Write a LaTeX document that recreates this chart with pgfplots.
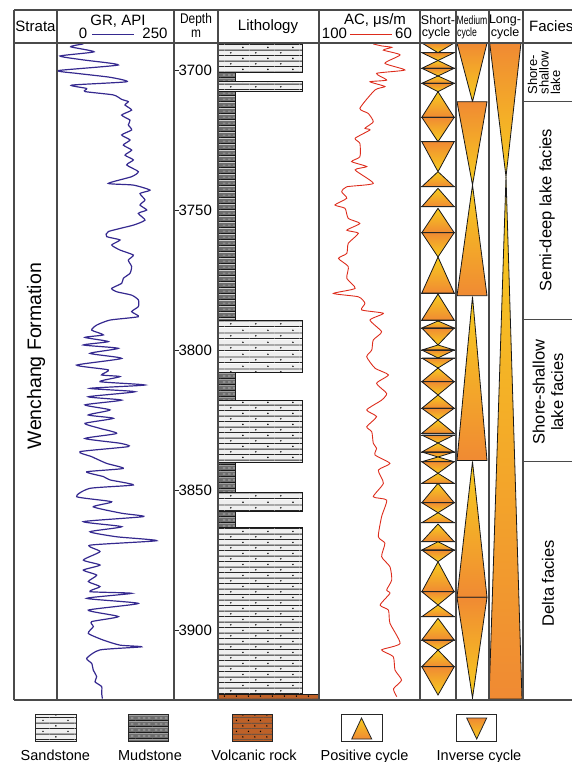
\documentclass[border=0pt]{standalone}
\usepackage{fontspec}
\setmainfont{Liberation Sans}
\usepackage{graphicx}
\usepackage{pgfplots}
\usepackage{pgfplotstable}
\pgfplotsset{compat=1.18}
\usetikzlibrary{patterns}

\definecolor{grc}{HTML}{35298F}
\definecolor{acc}{HTML}{DD2C1C}
\definecolor{cyo}{HTML}{F08A33}
\definecolor{cyy}{HTML}{F7CC1E}
\definecolor{sandf}{HTML}{EFEFEF}
\definecolor{mudf}{HTML}{6E6E6E}
\definecolor{volf}{HTML}{BE6128}
\definecolor{frc}{HTML}{4A4A4A}

\pgfdeclarepatterninherentlycolored{sandp}{\pgfpointorigin}{\pgfqpoint{25pt}{11.4pt}}{\pgfqpoint{25pt}{11.4pt}}{%
 \pgfsetfillcolor{sandf}\pgfpathrectangle{\pgfpointorigin}{\pgfqpoint{25pt}{11.4pt}}\pgfusepath{fill}%
 \pgfsetstrokecolor{black!85}\pgfsetlinewidth{0.9pt}%
 \pgfpathmoveto{\pgfqpoint{0pt}{0.45pt}}\pgfpathlineto{\pgfqpoint{25pt}{0.45pt}}%
 \pgfpathmoveto{\pgfqpoint{0pt}{6.15pt}}\pgfpathlineto{\pgfqpoint{25pt}{6.15pt}}%
 \pgfusepath{stroke}%
 \pgfsetfillcolor{black}%
 \pgfpathcircle{\pgfqpoint{6pt}{3.3pt}}{0.85pt}%
 \pgfpathcircle{\pgfqpoint{18.5pt}{9pt}}{0.85pt}%
 \pgfusepath{fill}}
\pgfdeclarepatterninherentlycolored{mudp}{\pgfpointorigin}{\pgfqpoint{17pt}{5.7pt}}{\pgfqpoint{17pt}{5.7pt}}{%
 \pgfsetfillcolor{mudf}\pgfpathrectangle{\pgfpointorigin}{\pgfqpoint{17pt}{5.7pt}}\pgfusepath{fill}%
 \pgfsetstrokecolor{black!90}\pgfsetlinewidth{0.8pt}%
 \pgfpathmoveto{\pgfqpoint{0pt}{0.4pt}}\pgfpathlineto{\pgfqpoint{17pt}{0.4pt}}\pgfusepath{stroke}%
 \pgfsetstrokecolor{black!20}\pgfsetlinewidth{0.7pt}%
 \pgfpathmoveto{\pgfqpoint{2pt}{3pt}}\pgfpathlineto{\pgfqpoint{4.6pt}{3pt}}%
 \pgfpathmoveto{\pgfqpoint{7.2pt}{3pt}}\pgfpathlineto{\pgfqpoint{9.8pt}{3pt}}%
 \pgfpathmoveto{\pgfqpoint{12.4pt}{3pt}}\pgfpathlineto{\pgfqpoint{15pt}{3pt}}%
 \pgfusepath{stroke}}
\pgfdeclarepatterninherentlycolored{volp}{\pgfpointorigin}{\pgfqpoint{12pt}{11.4pt}}{\pgfqpoint{12pt}{11.4pt}}{%
 \pgfsetfillcolor{volf}\pgfpathrectangle{\pgfpointorigin}{\pgfqpoint{12pt}{11.4pt}}\pgfusepath{fill}%
 \pgfsetstrokecolor{black!70}\pgfsetlinewidth{0.6pt}%
 \pgfpathmoveto{\pgfqpoint{0pt}{0.3pt}}\pgfpathlineto{\pgfqpoint{12pt}{0.3pt}}%
 \pgfpathmoveto{\pgfqpoint{0pt}{6pt}}\pgfpathlineto{\pgfqpoint{12pt}{6pt}}%
 \pgfusepath{stroke}%
 \pgfsetfillcolor{black}%
 \pgfpathcircle{\pgfqpoint{3pt}{3.2pt}}{0.8pt}%
 \pgfpathcircle{\pgfqpoint{9pt}{8.9pt}}{0.8pt}%
 \pgfusepath{fill}}

% GR log: depth (m), GR (API)
\pgfplotstableread{
d gr
3690.7 56.3
3691.7 29.2
3693.5 79.1
3695.0 6.4
3696.4 56.3
3698.2 131.1
3700.2 2.8
3701.2 42.0
3702.6 113.3
3704.2 148.9
3705.4 31.3
3706.6 63.4
3707.7 59.8
3708.9 120.4
3710.5 138.2
3711.3 152.4
3712.5 145.3
3714.3 159.5
3716.1 138.2
3717.9 156.0
3719.6 152.4
3721.4 159.5
3723.2 138.2
3725.0 156.0
3726.8 141.7
3728.6 159.5
3730.4 145.3
3732.1 163.1
3733.9 148.9
3736.3 173.8
3738.1 159.5
3740.5 109.7
3741.1 163.1
3742.9 198.7
3744.1 177.4
3746.4 188.0
3748.2 177.4
3750.0 191.6
3751.2 173.8
3753.6 188.0
3755.4 163.1
3757.7 109.7
3759.5 106.1
3760.7 134.6
3762.5 116.8
3764.3 134.6
3766.1 163.1
3767.9 152.4
3770.2 159.5
3772.6 156.0
3774.4 141.7
3776.2 138.2
3778.0 116.8
3779.2 127.5
3780.4 159.5
3782.1 173.8
3784.5 173.8
3786.3 159.5
3788.1 173.8
3789.3 113.3
3791.1 84.8
3792.9 74.1
3794.6 99.0
3795.5 59.8
3797.0 109.7
3798.2 56.3
3799.4 131.1
3801.2 70.5
3803.0 138.2
3805.4 42.0
3807.1 109.7
3808.9 95.4
3809.5 134.6
3811.3 91.9
3812.5 188.0
3813.7 70.5
3814.9 166.7
3816.7 66.9
3817.9 138.2
3819.6 59.8
3821.4 113.3
3823.2 66.9
3824.4 120.4
3826.2 59.8
3828.0 91.9
3829.8 127.5
3831.6 59.8
3833.3 134.6
3834.5 152.4
3836.3 49.1
3838.1 74.1
3840.5 106.1
3842.3 141.7
3843.5 63.4
3845.2 99.0
3846.4 113.3
3848.2 163.1
3849.4 70.5
3852.4 42.0
3854.2 116.8
3856.0 77.6
3858.3 138.2
3859.5 184.5
3861.3 56.3
3863.1 138.2
3864.9 70.5
3866.7 127.5
3868.1 213.0
3869.7 70.5
3872.0 91.9
3875.0 56.3
3876.8 91.9
3878.6 56.3
3880.4 84.8
3882.7 66.9
3884.5 91.9
3886.3 70.5
3886.9 159.5
3888.7 63.4
3890.5 173.8
3892.9 66.9
3895.2 131.1
3897.0 74.1
3898.8 77.6
3901.2 66.9
3903.6 99.0
3905.4 134.6
3906.0 180.9
3907.1 91.9
3910.1 63.4
3911.9 74.1
3914.3 77.6
3916.7 84.8
3918.5 81.2
3920.2 95.4
3922.5 95.4
3924.5 97.0
}\grdata

% AC log: depth (m), AC (us/m)
\pgfplotstableread{
d ac
3690.7 78.5
3691.4 75.2
3691.9 71.2
3692.9 74.5
3694.6 67.9
3697.6 73.9
3700.0 66.0
3701.2 77.2
3703.6 73.2
3704.2 79.8
3705.9 73.9
3707.1 77.8
3713.7 83.8
3715.5 80.5
3718.5 78.5
3720.8 81.8
3721.4 79.8
3724.4 85.7
3726.2 83.8
3731.0 83.8
3732.7 87.1
3734.5 81.1
3735.7 85.7
3740.5 78.5
3741.7 89.0
3743.5 91.0
3745.8 89.0
3748.2 93.7
3749.4 89.7
3753.0 88.4
3754.8 83.8
3757.2 89.0
3758.3 84.4
3761.9 88.4
3765.5 89.0
3767.3 92.3
3770.2 88.4
3774.4 89.0
3778.0 85.7
3779.8 94.3
3781.0 84.4
3783.3 81.8
3785.7 83.1
3786.9 74.5
3789.3 79.8
3793.5 75.2
3796.4 78.5
3800.0 79.1
3802.4 81.1
3806.5 77.8
3808.9 72.5
3811.9 77.2
3815.5 73.2
3817.9 75.2
3821.4 81.1
3823.8 77.2
3827.4 81.1
3829.2 79.1
3833.3 78.5
3835.1 77.2
3837.5 77.8
3840.5 71.9
3842.9 76.5
3847.6 74.5
3852.4 78.5
3853.6 73.2
3859.5 75.2
3866.7 76.5
3869.0 73.9
3873.8 75.2
3877.4 71.9
3882.1 71.2
3885.7 73.2
3886.9 71.9
3891.1 75.8
3892.9 72.5
3897.6 71.9
3904.8 67.9
3907.1 75.2
3909.5 70.6
3914.3 69.9
3917.9 67.3
3921.0 70.5
3923.8 69.2
}\acdata

% lithology bed: pattern, width, top, bottom
\newcommand\bed[4]{\addplot[draw=black!90, line width=0.9pt, pattern=#1] coordinates {(0,#3) (#2,#3) (#2,#4) (0,#4) (0,#3)};}
% positive cycle: left, right, apex (top), base (bottom)
\newcommand\cyP[4]{\addplot[draw=black!90, line width=0.8pt, top color=cyy, bottom color=cyo] coordinates {(0.5,#3) (#2,#4) (#1,#4) (0.5,#3)};}
% inverse cycle: left, right, base (top), apex (bottom)
\newcommand\cyI[4]{\addplot[draw=black!90, line width=0.8pt, top color=cyo, bottom color=cyy] coordinates {(#1,#3) (#2,#3) (0.5,#4) (#1,#3)};}
\newcommand\sP[2]{\cyP{0.05}{0.95}{#1}{#2}\addplot[black!85, line width=0.9pt] coordinates {(0,#2) (1,#2)};}
\newcommand\sI[2]{\cyI{0.05}{0.95}{#1}{#2}\addplot[black!85, line width=0.9pt] coordinates {(0,#1) (1,#1)};}

\pgfplotsset{col/.style={at={(#1pt,-43pt)}, anchor=north west, scale only axis, height=657pt, ymin=3690.36, ymax=3925, y dir=reverse, hide axis, xmin=0, xmax=1}}

\begin{document}
\begin{tikzpicture}
\useasboundingbox (0pt,0pt) rectangle (572pt,-762pt);

% GR
\begin{axis}[col=57, width=117pt, xmin=0, xmax=250]
\addplot[grc, line width=1.2pt, smooth, tension=0.35] table[x=gr, y=d] {\grdata};
\end{axis}

% Depth
\begin{axis}[at={(174pt,-43pt)}, anchor=north west, scale only axis, width=44pt, height=657pt,
  xmin=0, xmax=1, ymin=3690.36, ymax=3925, y dir=reverse,
  axis line style={draw=none}, xtick=\empty,
  ytick={3700,3750,3800,3850,3900}, ytick pos=left, tick align=inside,
  major tick length=4.5pt, every tick/.style={black!85, line width=0.9pt},
  yticklabel style={anchor=west, xshift=1pt, font=\fontsize{15}{18}\selectfont},
  /pgf/number format/assume math mode=true, /pgf/number format/1000 sep={}]
\end{axis}

% Lithology
\begin{axis}[col=218, width=101pt]
\bed{sandp}{0.835}{3690.36}{3700.96}
\bed{mudp}{0.171}{3700.96}{3704.18}
\bed{sandp}{0.835}{3704.18}{3707.75}
\bed{mudp}{0.171}{3707.75}{3789.29}
\bed{sandp}{0.835}{3789.29}{3807.96}
\bed{mudp}{0.171}{3807.96}{3818.11}
\bed{sandp}{0.835}{3818.11}{3840.11}
\bed{mudp}{0.171}{3840.11}{3850.96}
\bed{sandp}{0.835}{3850.96}{3857.75}
\bed{mudp}{0.171}{3857.75}{3863.32}
\bed{sandp}{0.835}{3863.32}{3922.96}
\bed{volp}{1}{3922.96}{3925}
\end{axis}

% AC
\begin{axis}[col=319, width=101pt, xmin=60, xmax=100, x dir=reverse]
\addplot[acc, line width=0.9pt, smooth, tension=0.35] table[x=ac, y=d] {\acdata};
\end{axis}

% Short cycles
\begin{axis}[col=420, width=36pt]
\sI{3690.36}{3693.82}
\sI{3693.82}{3696.61} \sP{3696.61}{3699.39}
\sI{3699.39}{3702.14} \sP{3702.14}{3704.75}
\sI{3704.75}{3707.75} \sP{3707.75}{3716.89}
\sI{3716.89}{3725.61}
\sI{3725.61}{3736.32} \sP{3736.32}{3741.68}
\sP{3742.25}{3748.82}
\sP{3749.39}{3758.11} \sI{3758.11}{3766.79}
\sP{3766.79}{3779.64}
\sP{3780}{3789.29}
\sP{3789.64}{3792.14} \sI{3792.14}{3798.21}
\sP{3798.21}{3800} \sI{3800}{3802.86}
\sI{3802.86}{3806.43} \sP{3806.43}{3811.32}
\sI{3811.32}{3816.07} \sP{3816.07}{3820.82}
\sI{3820.82}{3825} \sP{3825}{3829.75}
\sI{3830.36}{3833.21} \sP{3833.21}{3836.43}
\sI{3836.43}{3838.21} \sP{3838.21}{3839.89}
\sI{3839.89}{3844.04} \sP{3844.04}{3847.61}
\sP{3847.61}{3854.54} \sI{3854.54}{3858.11} \sP{3858.11}{3861.68}
\sP{3862.14}{3868.46}
\sP{3868.46}{3871.43} \sI{3871.43}{3875.61}
\sP{3875.61}{3886.32} \sI{3886.32}{3891.07} \sP{3891.07}{3895.25}
\sP{3895.82}{3903.57} \sI{3903.57}{3907.14} \sP{3907.14}{3913.11}
\sI{3913.11}{3923.21}
\end{axis}

% Medium cycles
\begin{axis}[col=456, width=33pt]
\cyI{0.03}{0.94}{3690.36}{3711.32}
\cyI{0.03}{0.94}{3711.32}{3741.07}
\cyP{0.03}{0.94}{3741.07}{3780.61}
\cyP{0.03}{0.94}{3780.9}{3839.46}
\cyP{0.03}{0.94}{3839.82}{3888.32}
\cyI{0.03}{0.94}{3888.32}{3924.29}
\end{axis}

% Long cycles
\begin{axis}[col=489, width=34pt]
\cyI{0.02}{0.94}{3690.36}{3738.11}
\cyP{0.0}{0.97}{3738.11}{3924.64}
\end{axis}

\begin{scope}[x=1pt, y=-1pt]
% frame
\draw[frc, line width=1.3pt] (14,10) -- (585,10);
\draw[frc, line width=1.3pt] (14,43) -- (585,43);
\draw[frc, line width=1.3pt] (14,700) -- (585,700);
\foreach \xx in {14,57,174,218,319,420,456,489,523}
  \draw[frc, line width=1.3pt] (\xx,10) -- (\xx,700);
\foreach \yy in {101.7,319.3,461.7}
  \draw[frc, line width=1.2pt] (523,\yy) -- (585,\yy);

% header
\node[font=\fontsize{15}{18}\selectfont] at (35.5,26.5) {Strata};
\node[font=\fontsize{15}{18}\selectfont] at (118,21) {GR, API};
\node[font=\fontsize{15}{18}\selectfont] at (83,33.5) {0};
\node[font=\fontsize{15}{18}\selectfont] at (155,33.5) {250};
\draw[grc, line width=1.2pt] (92,34.3) -- (134,34.3);
\node[font=\fontsize{14}{16}\selectfont, inner sep=0pt] at (196,20) {\scalebox{0.85}[1]{Depth}};
\node[font=\fontsize{14}{16}\selectfont, inner sep=0pt] at (196,34) {\scalebox{0.85}[1]{m}};
\node[font=\fontsize{15}{18}\selectfont] at (268,26.5) {Lithology};
\node[font=\fontsize{15}{18}\selectfont] at (375,21) {AC, μs/m};
\node[font=\fontsize{15}{18}\selectfont] at (334.5,33.5) {100};
\node[font=\fontsize{15}{18}\selectfont] at (403.5,33.5) {60};
\draw[acc, line width=1.2pt] (350,34.3) -- (392,34.3);
\node[font=\fontsize{12.5}{15}\selectfont] at (438,20) {Short-};
\node[font=\fontsize{12.5}{15}\selectfont] at (436,33) {cycle};
\node[font=\fontsize{12}{14}\selectfont, anchor=west, inner sep=0pt] at (456.5,20) {\scalebox{0.72}[1]{Medium}};
\node[font=\fontsize{12}{14}\selectfont, anchor=west, inner sep=0pt] at (457,33) {\scalebox{0.72}[1]{cycle}};
\node[font=\fontsize{12.5}{15}\selectfont] at (505,20) {Long-};
\node[font=\fontsize{12.5}{15}\selectfont] at (505,33) {cycle};
\node[font=\fontsize{15}{18}\selectfont, anchor=west, inner sep=0pt] at (529,26.5) {Facies};

% body texts
\node[font=\fontsize{19.5}{23}\selectfont, rotate=90] at (36,356) {Wenchang Formation};
\node[font=\fontsize{13}{11.5}\selectfont, rotate=90, align=left] at (544,72.5) {Shore-\\shallow\\lake};
\node[font=\fontsize{16.5}{19}\selectfont, rotate=90] at (547,210) {Semi-deep lake facies};
\node[font=\fontsize{16.5}{18.5}\selectfont, rotate=90, align=center] at (548,392) {Shore-shallow\\lake facies};
\node[font=\fontsize{16.5}{19}\selectfont, rotate=90] at (548,583) {Delta facies};

% legend
\path[pattern=sandp, draw=black!85, line width=0.9pt] (35,714) rectangle (76,741);
\path[pattern=mudp, draw=black!85, line width=0.9pt] (128,714) rectangle (168,741);
\path[pattern=volp, draw=black!85, line width=0.9pt] (232,714) rectangle (272,741);
\draw[black!85, line width=0.9pt] (341,714) rectangle (382,741);
\path[draw=black!85, line width=0.8pt, top color=cyy, bottom color=cyo] (361.5,718) -- (371.7,739) -- (351.7,739) -- cycle;
\draw[black!85, line width=0.9pt] (456,714) rectangle (496,741);
\path[draw=black!85, line width=0.8pt, top color=cyo, bottom color=cyy] (466.7,718) -- (486.7,718) -- (476.7,739) -- cycle;
\node[font=\fontsize{14.5}{17}\selectfont, anchor=base] at (55.4,760) {Sandstone};
\node[font=\fontsize{14.5}{17}\selectfont, anchor=base] at (150,760) {Mudstone};
\node[font=\fontsize{14.5}{17}\selectfont, anchor=base] at (254,760) {Volcanic rock};
\node[font=\fontsize{14.5}{17}\selectfont, anchor=base] at (364.5,760) {Positive cycle};
\node[font=\fontsize{14.5}{17}\selectfont, anchor=base] at (479,760) {Inverse cycle};
\end{scope}
\end{tikzpicture}
\end{document}
